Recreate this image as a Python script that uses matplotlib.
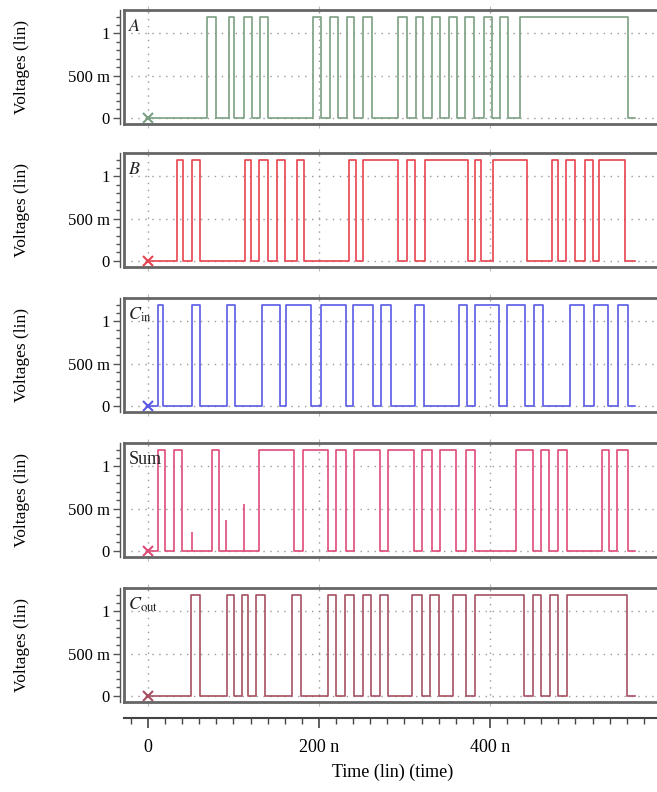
import matplotlib
matplotlib.use("Agg")
import matplotlib.pyplot as plt
from matplotlib.ticker import FixedLocator, MultipleLocator

plt.rcParams['font.family'] = ['Liberation Serif', 'DejaVu Serif']
plt.rcParams['mathtext.fontset'] = 'stix'

# rise / fall times (ns) of every high pulse
a_rise = [69, 95, 112, 131, 193, 213, 233, 252, 293, 313, 332, 352, 371, 393, 412, 435]
a_fall = [80, 101, 122, 140, 202, 222, 241, 262, 303, 322, 342, 362, 381, 402, 421, 561]

b_rise = [34, 51, 113, 130, 151, 174, 235, 252, 303, 324, 382, 404, 473, 489, 511, 528]
b_fall = [41, 61, 121, 140, 160, 183, 243, 292, 312, 374, 390, 443, 480, 499, 520, 558]

cin_rise = [12, 51, 92, 133, 162, 202, 240, 272, 312, 364, 382, 420, 452, 493, 522, 550]
cin_fall = [18, 61, 102, 154, 191, 232, 263, 284, 323, 373, 410, 441, 462, 510, 538, 561]

sum_rise = [12, 30, 75, 130, 181, 220, 241, 281, 320, 341, 372, 430, 460, 479, 531, 548]
sum_fall = [20, 40, 83, 171, 210, 232, 271, 311, 332, 360, 383, 450, 469, 490, 539, 561]
sum_glitch_t = [51, 91, 112]
sum_glitch_v = [0.22, 0.37, 0.56]

cout_rise = [50, 92, 110, 126, 169, 211, 230, 251, 271, 309, 330, 357, 383, 450, 470, 490]
cout_fall = [61, 101, 117, 137, 179, 220, 241, 261, 281, 320, 340, 372, 440, 460, 480, 560]

labels = ['$A$', '$B$', '$C_{\\mathrm{in}}$', 'Sum', '$C_{\\mathrm{out}}$']
colors = ['#7b9e82', '#e8424f', '#5a5ae6', '#e04a78', '#a65060']
rises = [a_rise, b_rise, cin_rise, sum_rise, cout_rise]
falls = [a_fall, b_fall, cin_fall, sum_fall, cout_fall]

high_level = 1.2
t_end = 570
x_lim = (-28, 600)


def square_wave(rise, fall):
    t = [0]
    v = [0]
    for r, f in zip(rise, fall):
        t += [r, r, f, f]
        v += [0, high_level, high_level, 0]
    t.append(t_end)
    v.append(0)
    return t, v


fig = plt.figure(figsize=(6.57, 7.92), dpi=100)
W, H = 657.0, 792.0
left = 124 / W
width = (661 - 124) / W
tops = [10, 153, 298, 443, 588]
box_h = 114

for i in range(5):
    ax = fig.add_axes([left, 1 - (tops[i] + box_h) / H, width, box_h / H])
    t, v = square_wave(rises[i], falls[i])
    ax.plot(t, v, color=colors[i], lw=1.2)
    if i == 3:
        ax.vlines(sum_glitch_t, 0, sum_glitch_v, color=colors[i], lw=1.2)
    ax.plot([0], [0], marker='x', color=colors[i], ms=7, mew=1.5)

    ax.set_xlim(*x_lim)
    ax.set_ylim(-0.072, 1.277)

    ax.yaxis.set_major_locator(FixedLocator([0, 0.5, 1]))
    ax.set_yticklabels(['0', '500 m', '1'])
    ax.yaxis.set_minor_locator(MultipleLocator(0.1))
    ax.tick_params(axis='y', which='major', direction='out', length=5, width=1,
                   color='#555555', labelsize=12, pad=2)
    ax.tick_params(axis='y', which='minor', direction='out', length=3, width=1,
                   color='#555555')
    ax.xaxis.set_major_locator(FixedLocator([0, 200, 400]))
    ax.tick_params(axis='x', which='major', direction='out', length=3, color='#bbbbbb',
                   top=True, labelbottom=False)

    ax.grid(True, linestyle=(0, (1, 4)), color='#999999', lw=1.0)

    for side in ['top', 'bottom', 'right']:
        ax.spines[side].set_color('#666666')
        ax.spines[side].set_linewidth(2)
    ax.spines['left'].set_position(('outward', 3))
    ax.spines['left'].set_color('#555555')
    ax.spines['left'].set_linewidth(1)
    ax.plot([0, 0], [0, 1], transform=ax.transAxes, color='#666666', lw=2, clip_on=False)

    ax.text(0.008, 0.93, labels[i], transform=ax.transAxes, fontsize=13,
            va='top', ha='left', color='#222222')
    ax.set_ylabel('Voltages (lin)', fontsize=12.5)
    ax.yaxis.set_label_coords(-0.175, 0.5)

# shared time axis at the bottom
tax = fig.add_axes([left, 1 - 718 / H, width, 0.001])
tax.set_xlim(*x_lim)
tax.set_yticks([])
for side in ['top', 'left', 'right']:
    tax.spines[side].set_visible(False)
tax.spines['bottom'].set_color('#444444')
tax.spines['bottom'].set_linewidth(1.5)
tax.xaxis.set_major_locator(FixedLocator([0, 200, 400]))
tax.set_xticklabels(['0', '200 n', '400 n'])
tax.xaxis.set_minor_locator(MultipleLocator(20))
tax.tick_params(axis='x', which='major', direction='out', length=7, width=1.2,
                color='#444444', labelsize=13, pad=8)
tax.tick_params(axis='x', which='minor', direction='out', length=4, width=1,
                color='#444444')
tax.set_xlabel('Time (lin) (time)', fontsize=13, labelpad=6)

fig.savefig('out.png', dpi=100)
